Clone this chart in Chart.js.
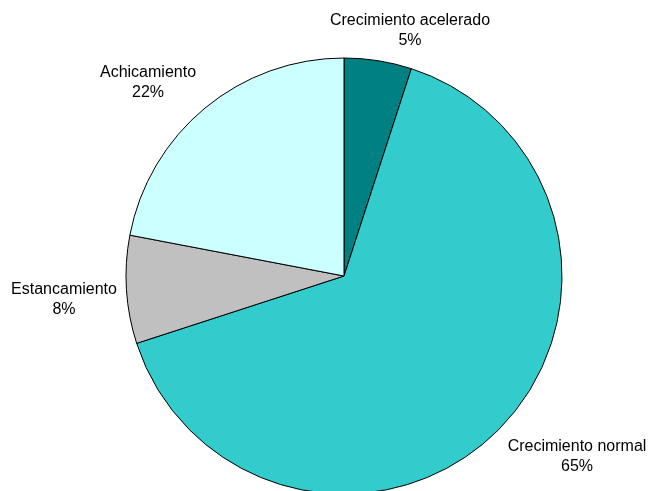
<!DOCTYPE html>
<html>
<head>
<meta charset="utf-8">
<script src="https://cdn.jsdelivr.net/npm/chart.js@4"></script>
<style>
  html, body { margin: 0; padding: 0; background: #fff; }
  #wrap { width: 650px; height: 491px; position: relative; }
</style>
</head>
<body>
<div id="wrap"><canvas id="chart" width="650" height="491"></canvas></div>
<script>
// ==========================
// Data
// ==========================
const categories = ["Crecimiento acelerado", "Crecimiento normal", "Estancamiento", "Achicamiento"];
const shares = [5, 65, 8, 22];
const sliceColors = ["#008080", "#33CCCC", "#C0C0C0", "#CCFFFF"];

// label anchor points (text centre, first line)
const labelPos = [[410, 21], [577, 447], [64, 290], [148, 73]];

// ==========================
// Label plugin
// ==========================
const outsideLabels = {
    id: "outsideLabels",
    afterDatasetsDraw(chart) {
        const ctx = chart.ctx;
        ctx.save();
        ctx.font = "16px 'Liberation Sans', Arial, sans-serif";
        ctx.fillStyle = "#000";
        ctx.textAlign = "center";
        ctx.textBaseline = "middle";
        categories.forEach((name, i) => {
            const [x, y] = labelPos[i];
            ctx.fillText(name, x, y);
            ctx.fillText(shares[i] + "%", x, y + 19.5);
        });
        ctx.restore();
    }
};

new Chart(document.getElementById("chart"), {
    type: "pie",
    data: {
        labels: categories,
        datasets: [{
            data: shares,
            backgroundColor: sliceColors,
            borderColor: "#000",
            borderWidth: 1,
            radius: 218,
            clip: false
        }]
    },
    options: {
        responsive: false,
        animation: false,
        layout: { padding: { left: 38, right: 0, top: 61, bottom: 0 } },
        plugins: {
            legend: { display: false },
            tooltip: { enabled: false }
        }
    },
    plugins: [outsideLabels]
});
</script>
</body>
</html>
